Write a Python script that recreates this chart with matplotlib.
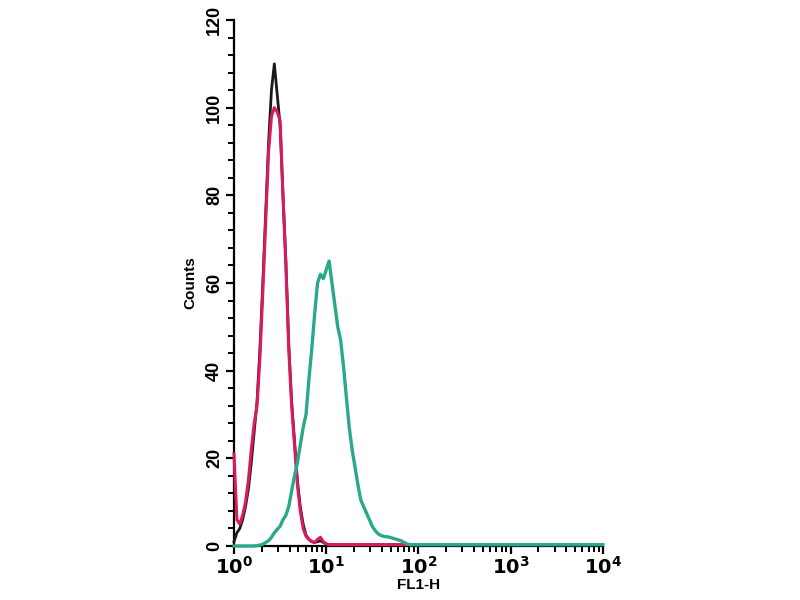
import numpy as np
import matplotlib.pyplot as plt
from matplotlib.ticker import LogLocator, MultipleLocator, NullFormatter

plt.rcParams['font.family'] = ['Liberation Sans', 'DejaVu Sans']

# histogram channels (256 channels over 4 decades, 64 per decade)
channels = list(range(0, 130, 2)) + [256]

isotype_black = [1, 3, 4, 6, 9, 13, 19, 26, 33, 45, 60, 76, 92, 104, 110, 103,
                 96, 80, 65, 46, 33, 24, 15, 9, 5, 2.5, 1.5, 1, 0.8, 1, 1.2, 0.8,
                 0.5] + [0.3] * 32 + [0.3]
control_magenta = [21, 6, 5, 7, 10, 15, 22, 28, 32, 43, 58, 74, 90, 98, 100, 99,
                   97, 80, 64, 45, 32, 23, 14, 8, 4, 2.2, 1.5, 1, 0.8, 1.5, 2, 1,
                   0.5] + [0.3] * 32 + [0.3]
stained_teal = [0, 0, 0, 0, 0, 0, 0, 0, 0.1, 0.2, 0.4, 0.8, 1.2, 2, 3, 3.8,
                4.5, 6, 7, 9, 12.5, 16, 19, 23, 27, 30, 38, 45, 53, 60, 62, 61,
                63, 65, 60, 55, 50, 47, 41, 34, 27, 22, 18, 14, 10.5, 9, 7.5, 6,
                4.5, 3.5, 2.8, 2.4, 2.2, 2.1, 2, 1.8, 1.6, 1.4, 1.2, 0.8, 0.5, 0.3,
                0.3, 0.3, 0.3, 0.3]

fl1 = 10 ** (np.array(channels) / 64.0)

fig = plt.figure(figsize=(8, 6), dpi=100)
ax = fig.add_axes([0.2925, 0.09, 0.461, 0.8767])

ax.plot(fl1[:65], isotype_black[:65], color='#1a1a1a', lw=2, clip_on=False, zorder=3)
ax.plot(fl1[:65], control_magenta[:65], color='#d81b60', lw=2.2, clip_on=False, zorder=4)
ax.plot(fl1, stained_teal, color='#2aa88c', lw=2.4, clip_on=False, zorder=5)

ax.set_xscale('log')
ax.set_xlim(1, 1e4)
ax.set_ylim(0, 120)

ax.spines['top'].set_visible(False)
ax.spines['right'].set_visible(False)
ax.spines['left'].set_linewidth(1.6)
ax.spines['bottom'].set_linewidth(1.6)

ax.set_yticks(np.arange(0, 121, 20))
ax.yaxis.set_minor_locator(MultipleLocator(4))
ax.xaxis.set_major_locator(LogLocator(base=10, numticks=10))
ax.xaxis.set_minor_locator(LogLocator(base=10, subs=np.arange(2, 10), numticks=20))
ax.xaxis.set_minor_formatter(NullFormatter())

ax.tick_params(which='major', direction='out', length=6, width=1.6, labelsize=13)
ax.tick_params(which='minor', direction='out', length=4, width=1.4)
ax.tick_params(axis='y', pad=2)
for lbl in ax.get_yticklabels():
    lbl.set_rotation(90)
    lbl.set_va('center')
    lbl.set_fontweight('bold')

ax.set_xticks([1, 10, 100, 1000, 10000])
ax.set_xticklabels(['$\\mathbf{10^{0}}$', '$\\mathbf{10^{1}}$', '$\\mathbf{10^{2}}$',
                    '$\\mathbf{10^{3}}$', '$\\mathbf{10^{4}}$'], fontsize=14)
ax.tick_params(axis='x', pad=1)

ax.set_ylabel('Counts', fontsize=11, fontweight='bold', labelpad=6)
ax.set_xlabel('FL1-H', fontsize=11, fontweight='bold', labelpad=0)

fig.savefig('out.png', dpi=100)
